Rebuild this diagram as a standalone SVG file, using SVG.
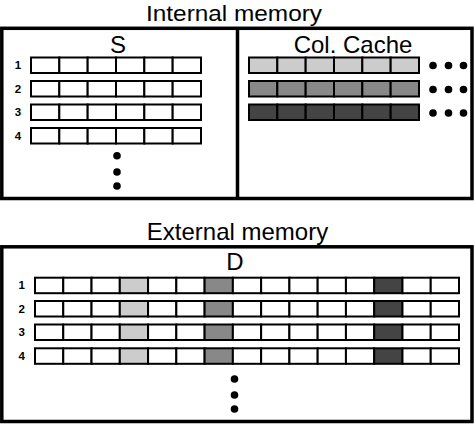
<svg xmlns="http://www.w3.org/2000/svg" width="474" height="424" viewBox="0 0 474 424">
<style>
.frame{fill:none;stroke:#000;stroke-width:3.5}
.cell{stroke:#000;stroke-width:2}
.w{fill:#fff}
.l{fill:#cccccc}
.m{fill:#888888}
.d{fill:#444444}
.title{font-family:"Liberation Sans",Arial,sans-serif;font-size:24px;fill:#000;text-anchor:middle}
.num{font-family:"Liberation Sans",Arial,sans-serif;font-size:11.5px;font-weight:bold;fill:#000;text-anchor:middle}
.dot{fill:#000}
</style>
<defs>
<g id="srow">
<rect class="cell w" x="31" y="0" width="28.33" height="15.5"/>
<rect class="cell w" x="59.33" y="0" width="28.33" height="15.5"/>
<rect class="cell w" x="87.67" y="0" width="28.33" height="15.5"/>
<rect class="cell w" x="116" y="0" width="28.33" height="15.5"/>
<rect class="cell w" x="144.33" y="0" width="28.33" height="15.5"/>
<rect class="cell w" x="172.67" y="0" width="28.33" height="15.5"/>
</g>
<g id="drow">
<rect class="cell w" x="35" y="0" width="28.27" height="15.5"/>
<rect class="cell w" x="63.27" y="0" width="28.27" height="15.5"/>
<rect class="cell w" x="91.53" y="0" width="28.27" height="15.5"/>
<rect class="cell l" x="119.8" y="0" width="28.27" height="15.5"/>
<rect class="cell w" x="148.07" y="0" width="28.27" height="15.5"/>
<rect class="cell w" x="176.33" y="0" width="28.27" height="15.5"/>
<rect class="cell m" x="204.6" y="0" width="28.27" height="15.5"/>
<rect class="cell w" x="232.87" y="0" width="28.27" height="15.5"/>
<rect class="cell w" x="261.13" y="0" width="28.27" height="15.5"/>
<rect class="cell w" x="289.4" y="0" width="28.27" height="15.5"/>
<rect class="cell w" x="317.67" y="0" width="28.27" height="15.5"/>
<rect class="cell w" x="345.93" y="0" width="28.27" height="15.5"/>
<rect class="cell d" x="374.2" y="0" width="28.27" height="15.5"/>
<rect class="cell w" x="402.47" y="0" width="28.27" height="15.5"/>
<rect class="cell w" x="430.73" y="0" width="28.27" height="15.5"/>
</g>
</defs>
<rect width="474" height="424" fill="#fff"/>

<g id="internal-memory">
<text class="title" x="234" y="20.6" style="font-size:22.5px" textLength="176" lengthAdjust="spacingAndGlyphs">Internal memory</text>
<rect class="frame" x="1.8" y="28.3" width="470.2" height="170.2"/>
<line class="frame" x1="237.5" y1="28.3" x2="237.5" y2="198.5"/>
</g>

<g id="S">
<text class="title" x="118" y="53.3">S</text>
<text class="num" x="18" y="69.3">1</text>
<text class="num" x="18" y="92.8">2</text>
<text class="num" x="18" y="116.3">3</text>
<text class="num" x="18" y="139.8">4</text>
<use href="#srow" y="57.5"/>
<use href="#srow" y="81"/>
<use href="#srow" y="104.5"/>
<use href="#srow" y="128"/>
<circle class="dot" cx="117" cy="155.7" r="3.8"/>
<circle class="dot" cx="117" cy="172" r="3.8"/>
<circle class="dot" cx="117" cy="186" r="3.8"/>
</g>

<g id="col-cache">
<text class="title" x="353" y="53.3">Col. Cache</text>
<g transform="translate(249,57.5)">
<rect class="cell l" x="0" y="0" width="28.33" height="15.5"/>
<rect class="cell l" x="28.33" y="0" width="28.33" height="15.5"/>
<rect class="cell l" x="56.67" y="0" width="28.33" height="15.5"/>
<rect class="cell l" x="85" y="0" width="28.33" height="15.5"/>
<rect class="cell l" x="113.33" y="0" width="28.33" height="15.5"/>
<rect class="cell l" x="141.67" y="0" width="28.33" height="15.5"/>
</g>
<g transform="translate(249,81)">
<rect class="cell m" x="0" y="0" width="28.33" height="15.5"/>
<rect class="cell m" x="28.33" y="0" width="28.33" height="15.5"/>
<rect class="cell m" x="56.67" y="0" width="28.33" height="15.5"/>
<rect class="cell m" x="85" y="0" width="28.33" height="15.5"/>
<rect class="cell m" x="113.33" y="0" width="28.33" height="15.5"/>
<rect class="cell m" x="141.67" y="0" width="28.33" height="15.5"/>
</g>
<g transform="translate(249,104.5)">
<rect class="cell d" x="0" y="0" width="28.33" height="15.5"/>
<rect class="cell d" x="28.33" y="0" width="28.33" height="15.5"/>
<rect class="cell d" x="56.67" y="0" width="28.33" height="15.5"/>
<rect class="cell d" x="85" y="0" width="28.33" height="15.5"/>
<rect class="cell d" x="113.33" y="0" width="28.33" height="15.5"/>
<rect class="cell d" x="141.67" y="0" width="28.33" height="15.5"/>
</g>
<circle class="dot" cx="433" cy="65.5" r="3.8"/>
<circle class="dot" cx="448.5" cy="65.5" r="3.8"/>
<circle class="dot" cx="463.5" cy="65.5" r="3.8"/>
<circle class="dot" cx="433" cy="89.5" r="3.8"/>
<circle class="dot" cx="448.5" cy="89.5" r="3.8"/>
<circle class="dot" cx="463.5" cy="89.5" r="3.8"/>
<circle class="dot" cx="433" cy="113" r="3.8"/>
<circle class="dot" cx="448.5" cy="113" r="3.8"/>
<circle class="dot" cx="463.5" cy="113" r="3.8"/>
</g>

<g id="external-memory">
<text class="title" x="237.5" y="240">External memory</text>
<rect class="frame" x="1.8" y="246.8" width="470.2" height="174.7"/>
</g>

<g id="D">
<text class="title" x="235" y="270">D</text>
<text class="num" x="21.7" y="289">1</text>
<text class="num" x="21.7" y="312.5">2</text>
<text class="num" x="21.7" y="336">3</text>
<text class="num" x="21.7" y="360">4</text>
<use href="#drow" y="277.7"/>
<use href="#drow" y="301"/>
<use href="#drow" y="324.5"/>
<use href="#drow" y="348.3"/>
<circle class="dot" cx="234.5" cy="379" r="3.8"/>
<circle class="dot" cx="234.5" cy="395" r="3.8"/>
<circle class="dot" cx="234.5" cy="409" r="3.8"/>
</g>

<g id="connectors"/>
</svg>
